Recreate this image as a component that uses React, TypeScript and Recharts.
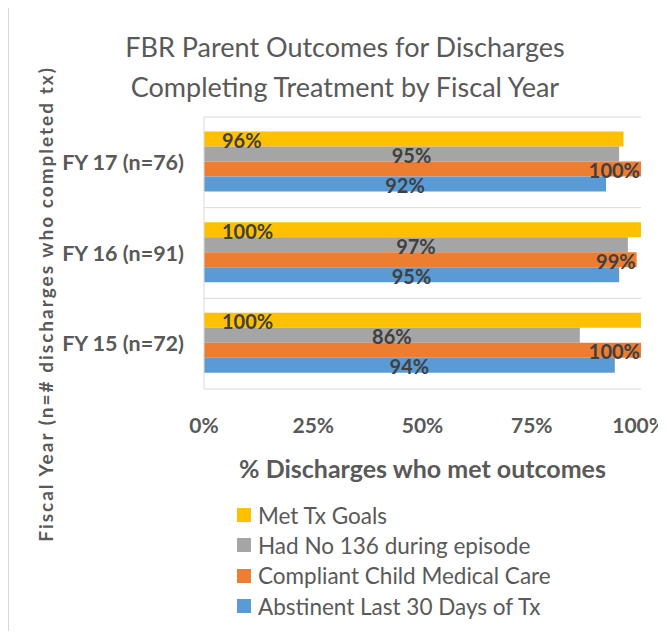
import { Bar, BarChart, CartesianGrid, LabelList, XAxis, YAxis } from "recharts";

const years = ["FY 17 (n=76)", "FY 16 (n=91)", "FY 15 (n=72)"];
const metTxGoals = [96, 100, 100];
const noFile136 = [95, 97, 86];
const childMedical = [100, 99, 100];
const abstinent = [92, 95, 94];
const xTicks = [0, 25, 50, 75, 100];

const SERIES = [
  { key: "met", name: "Met Tx Goals", color: "#FFC000", pos: "insideLeft", offset: 18 },
  { key: "no136", name: "Had No 136 during episode", color: "#A5A5A5", pos: "center", offset: 0 },
  { key: "medical", name: "Compliant Child Medical Care", color: "#ED7D31", pos: "insideRight", offset: 1 },
  { key: "abstinent", name: "Abstinent Last 30 Days of Tx", color: "#5B9BD5", pos: "center", offset: 0 },
] as const;

const data = years.map((fy, i) => ({
  fy,
  met: metTxGoals[i],
  no136: noFile136[i],
  medical: childMedical[i],
  abstinent: abstinent[i],
}));

const FONT = "Lato, 'Open Sans', sans-serif";
const TEXT = "#595959";

export default function App() {
  return (
    <div style={{ position: "relative", width: 666, height: 639, margin: -8, fontFamily: FONT, background: "#fff" }}>
      <div style={{ position: "absolute", left: 7, top: 2, right: 0, bottom: 8, borderLeft: "2px solid #D9D9D9", borderTop: "2px solid #D9D9D9" }} />
      <div style={{ position: "absolute", left: 0, width: 690, top: 27, textAlign: "center", color: TEXT, fontSize: 27, lineHeight: "40px" }}>
        FBR Parent Outcomes for Discharges
        <br />
        Completing Treatment by Fiscal Year
      </div>
      <div style={{ position: "absolute", left: 45, top: 304, transform: "translate(-50%, -50%) rotate(-90deg)", whiteSpace: "nowrap", color: TEXT, fontSize: 19, fontWeight: 700, letterSpacing: 2 }}>
        Fiscal Year (n=# discharges who completed tx)
      </div>
      <div style={{ position: "absolute", top: 0, left: 0 }}>
        <BarChart width={666} height={639} data={data} layout="vertical" barCategoryGap="16%" barGap={0}
          margin={{ top: 117, right: 25, left: 54, bottom: 190 }}>
          <CartesianGrid vertical={false} stroke="#D9D9D9"
            horizontalCoordinatesGenerator={({ offset }: any) => [0, 1, 2, 3].map((i) => offset.top + (offset.height * i) / 3)} />
          <XAxis type="number" domain={[0, 100]} ticks={xTicks} tickFormatter={(v: number) => `${v}%`}
            axisLine={false} tickLine={false} tickSize={0} tickMargin={29} height={60}
            tick={{ fill: TEXT, fontSize: 21, fontWeight: 700, fontFamily: FONT }}
            label={{ value: "% Discharges who met outcomes", position: "bottom", offset: 11, style: { fill: TEXT, fontSize: 25, fontWeight: 700, fontFamily: FONT } }} />
          <YAxis type="category" dataKey="fy" width={150} axisLine={{ stroke: "#D9D9D9" }} tickLine={false} tickSize={0} tickMargin={20}
            tick={{ fill: TEXT, fontSize: 21.5, fontWeight: 700, fontFamily: FONT }} />
          {SERIES.map((s) => (
            <Bar key={s.key} dataKey={s.key} name={s.name} fill={s.color} isAnimationActive={false}>
              <LabelList dataKey={s.key} position={s.pos as any} offset={s.offset} dy={2}
                formatter={(v: number) => `${v}%`}
                style={{ fill: "#404040", fontSize: 20, fontWeight: 700, fontFamily: FONT }} />
            </Bar>
          ))}
        </BarChart>
      </div>
      <div style={{ position: "absolute", left: 237, top: 500, color: TEXT, fontSize: 22.5 }}>
        {SERIES.map((s) => (
          <div key={s.key} style={{ display: "flex", alignItems: "center", height: 30.3 }}>
            <span style={{ width: 14, height: 14, background: s.color, marginRight: 7, display: "inline-block", flexShrink: 0 }} />
            {s.name}
          </div>
        ))}
      </div>
    </div>
  );
}
